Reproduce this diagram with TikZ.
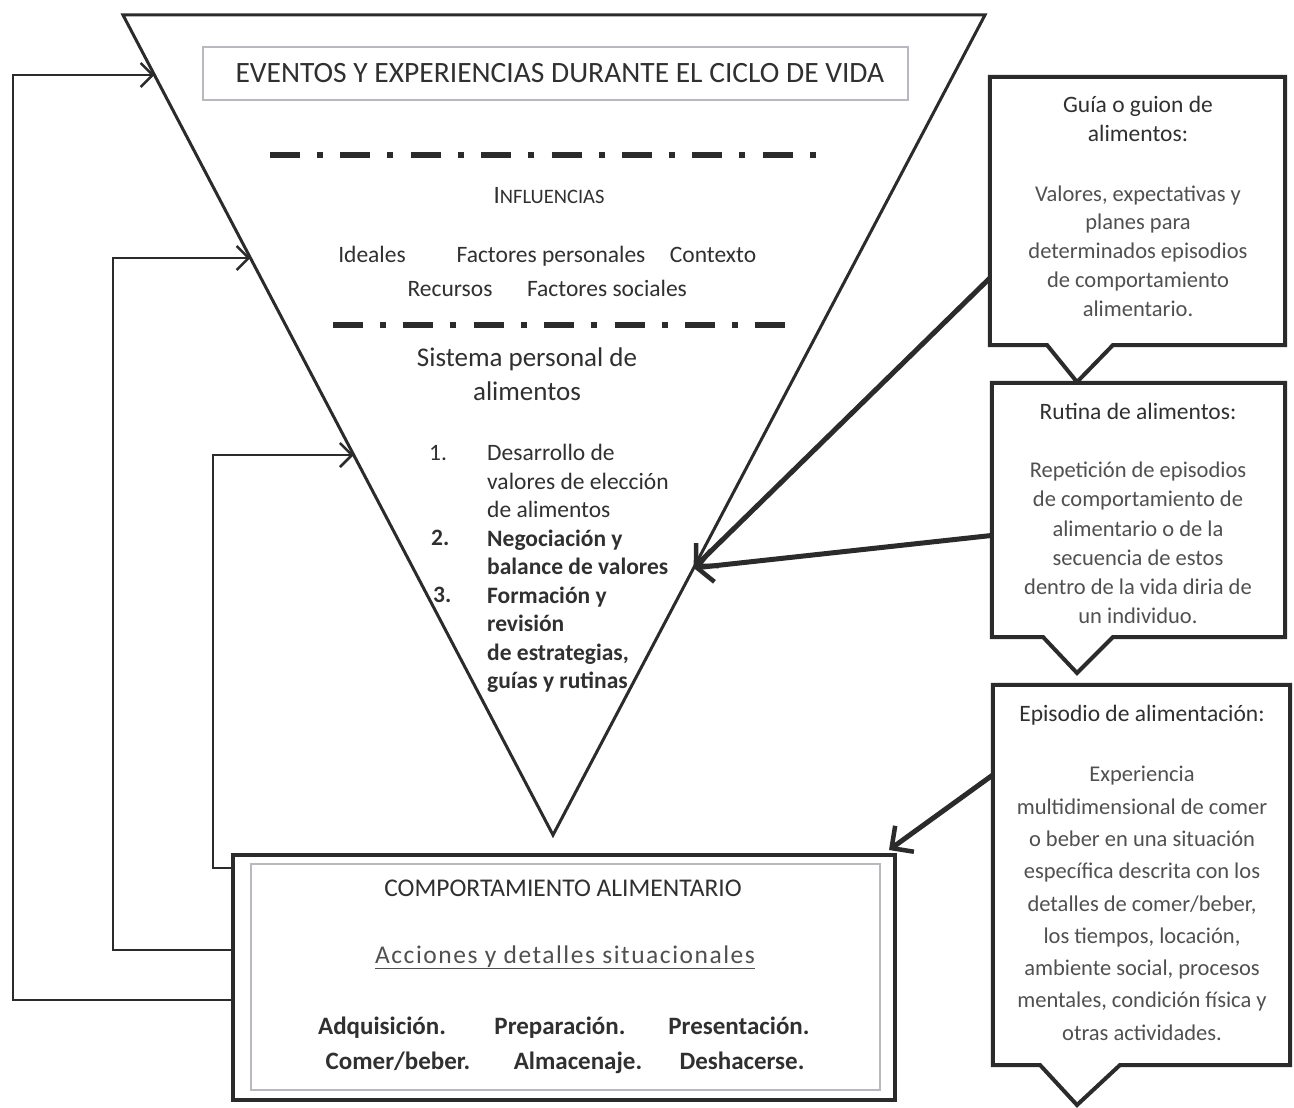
\documentclass[tikz,border=0pt]{standalone}
\usepackage{fontspec}
\setmainfont{Carlito}
\usetikzlibrary{arrows.meta,calc}
\definecolor{ink}{HTML}{2B2B2B}
\definecolor{txt}{HTML}{303030}
\definecolor{soft}{HTML}{505050}
\definecolor{frame}{HTML}{B8B8C0}
\begin{document}
\begin{tikzpicture}[x=1pt,y=-1pt,
  tri/.style={draw=ink,line width=3pt,line join=miter},
  fb/.style={draw=ink,line width=2.8pt,-{Straight Barb[length=12pt,width=24pt,line width=2.5pt]}},
  big/.style={draw=ink,line width=5pt,-{Straight Barb[length=16pt,width=32pt,line width=4.5pt]}},
  dd/.style={draw=ink,line width=6pt,dash pattern=on 30pt off 17pt on 6pt off 17.4pt},
  lbl/.style={inner sep=0pt,text=txt,font=\fontsize{23.5}{28.5}\selectfont},
  blbl/.style={inner sep=0pt,anchor=base,text=txt,font=\fontsize{25}{30}\selectfont},
  cbox/.style={draw=none,minimum width=#1,inner sep=0pt},
  callout/.style={draw=ink,line width=4pt,fill=white,line join=miter},
  ctext/.style={inner sep=0pt,align=center,text=soft,font=\fontsize{22.5}{29.2}\selectfont},
]
\useasboundingbox (0,0) rectangle (1294,1108);
\fill[white] (0,0) rectangle (1294,1108);

% ---------- triangle ----------
\coordinate (TL) at (123,15);
\coordinate (TR) at (985,15);
\coordinate (AP) at (553,835);
\draw[tri] (TL) -- (TR) -- (AP) -- cycle;

\node[draw=frame,line width=1.2pt,minimum width=705pt,minimum height=53pt,inner sep=0pt] (titlebox) at (555.5,73.5) {};
\node[inner sep=0pt,text=txt,font=\fontsize{29.5}{32}\selectfont] (title) at (560,73.5)
      {EVENTOS Y EXPERIENCIAS DURANTE EL CICLO DE VIDA};

\draw[dd] (270,155) -- (820,155);
\node[lbl,anchor=base] (infl) at (549,203) {{\fontsize{25}{26}\selectfont I}{\fontsize{20.5}{26}\selectfont NFLUENCIAS}};
\node[lbl,anchor=base] (ideales) at (372,262) {Ideales};
\node[lbl,anchor=base] (fpers) at (551,262) {Factores personales};
\node[lbl,anchor=base] (contexto) at (713,262) {Contexto};
\node[lbl,anchor=base] (recursos) at (450,296) {Recursos};
\node[lbl,anchor=base] (fsoc) at (607,296) {Factores sociales};
\draw[dd] (333,325) -- (785,325);

\node[lbl,align=center,font=\fontsize{27}{34}\selectfont] (sist) at (527,374) {Sistema personal de\\alimentos};

\node[lbl,anchor=base west] (n1) at (429,460) {1.};
\node[lbl,anchor=base west,font=\fontsize{23.5}{28.5}\bfseries] (n2) at (431,545.5) {2.};
\node[lbl,anchor=base west,font=\fontsize{23.5}{28.5}\bfseries] (n3) at (433,602.5) {3.};
\node[lbl,anchor=north west,align=left] (items) at (487,444)
  {Desarrollo de\\valores de elección\\de alimentos\\\textbf{Negociación y}\\\textbf{balance de valores}\\\textbf{Formación y}\\\textbf{revisión}\\\textbf{de estrategias,}\\\textbf{guías y rutinas}};

% ---------- bottom box ----------
\node[draw=ink,line width=4pt,minimum width=662pt,minimum height=245pt,inner sep=0pt] (beh) at (564,977.5) {};
\draw[frame,line width=1.2pt] (251,864) rectangle (880,1090);
\node[blbl,font=\fontsize{25.5}{30}\selectfont] (bt) at (563,896) {COMPORTAMIENTO ALIMENTARIO};
\node[blbl,text=soft,font=\fontsize{25.5}{30}\addfontfeatures{LetterSpace=6}\selectfont] (acc) at (565,963) {\underline{Acciones y detalles situacionales}};
\node[blbl] (a1) at (382,1034) {\textbf{Adquisición.}};
\node[blbl] (a2) at (560,1034) {\textbf{Preparación.}};
\node[blbl] (a3) at (739,1034) {\textbf{Presentación.}};
\node[blbl] (a4) at (398,1069) {\textbf{Comer/beber.}};
\node[blbl] (a5) at (578,1069) {\textbf{Almacenaje.}};
\node[blbl] (a6) at (742,1069) {\textbf{Deshacerse.}};

% ---------- feedback arrows ----------
\coordinate (L1) at ($(TL)!0.0732!(AP)$);
\coordinate (L2) at ($(TL)!0.2963!(AP)$);
\coordinate (L3) at ($(TL)!0.5366!(AP)$);
\coordinate (f1) at (13,1000);
\coordinate (f2) at (113,950);
\coordinate (f3) at (213,868);
\draw[fb] (beh.west |- f1) -- (f1) |- (L1);
\draw[fb] (beh.west |- f2) -- (f2) |- (L2);
\draw[fb] (beh.west |- f3) -- (f3) |- (L3);

% ---------- callouts ----------
\node[cbox=295pt,minimum height=268pt] (c1) at (1137.5,211) {};
\node[cbox=293pt,minimum height=254pt] (c2) at (1138.5,510) {};
\node[cbox=297pt,minimum height=380pt] (c3) at (1141.5,875) {};

\draw[callout] (c1.north west) -- (c1.north east) -- (c1.south east) -- (1113,345) -- (1077,382) -- (1047,345) -- (c1.south west) -- cycle;
\draw[callout] (c2.north west) -- (c2.north east) -- (c2.south east) -- (1113,637) -- (1077,673) -- (1043,637) -- (c2.south west) -- cycle;
\draw[callout] (c3.north west) -- (c3.north east) -- (c3.south east) -- (1120,1065) -- (1077,1105) -- (1040,1065) -- (c3.south west) -- cycle;

\node[ctext,anchor=north,font=\fontsize{22.5}{28.8}\selectfont] (c1t) at (1138,96)
  {{\fontsize{23.5}{28.8}\selectfont\color{txt}Guía o guion de}\\{\fontsize{23.5}{28.8}\selectfont\color{txt}alimentos:}\\[31pt]Valores, expectativas y\\planes para\\determinados episodios\\de comportamiento\\alimentario.};
\node[ctext,anchor=north] (c2t) at (1138,403)
  {{\fontsize{23.5}{28.8}\selectfont\color{txt}Rutina de alimentos:}\\[29pt]Repetición de episodios\\de comportamiento de\\alimentario o de la\\secuencia de estos\\dentro de la vida diria de\\un individuo.};
\node[ctext,anchor=north,font=\fontsize{22.5}{32.3}\selectfont] (c3t) at (1142,705)
  {{\fontsize{23.5}{28.8}\selectfont\color{txt}Episodio de alimentación:}\\[28pt]Experiencia\\multidimensional de comer\\o beber en una situación\\específica descrita con los\\detalles de comer/beber,\\los tiempos, locación,\\ambiente social, procesos\\mentales, condición física y\\otras actividades.};

% ---------- arrows from callouts ----------
\coordinate (R1) at ($(TR)!0.6744!(AP)$);
\draw[big] ($(c1.north west)!0.75!(c1.south west)$) -- (R1);
\draw[big] ($(c2.north west)!0.6!(c2.south west)$) -- (R1);
\draw[big] ($(c3.north west)!0.237!(c3.south west)$) -- ($(beh.north east)+(-8,-3)$);
\end{tikzpicture}
\end{document}
